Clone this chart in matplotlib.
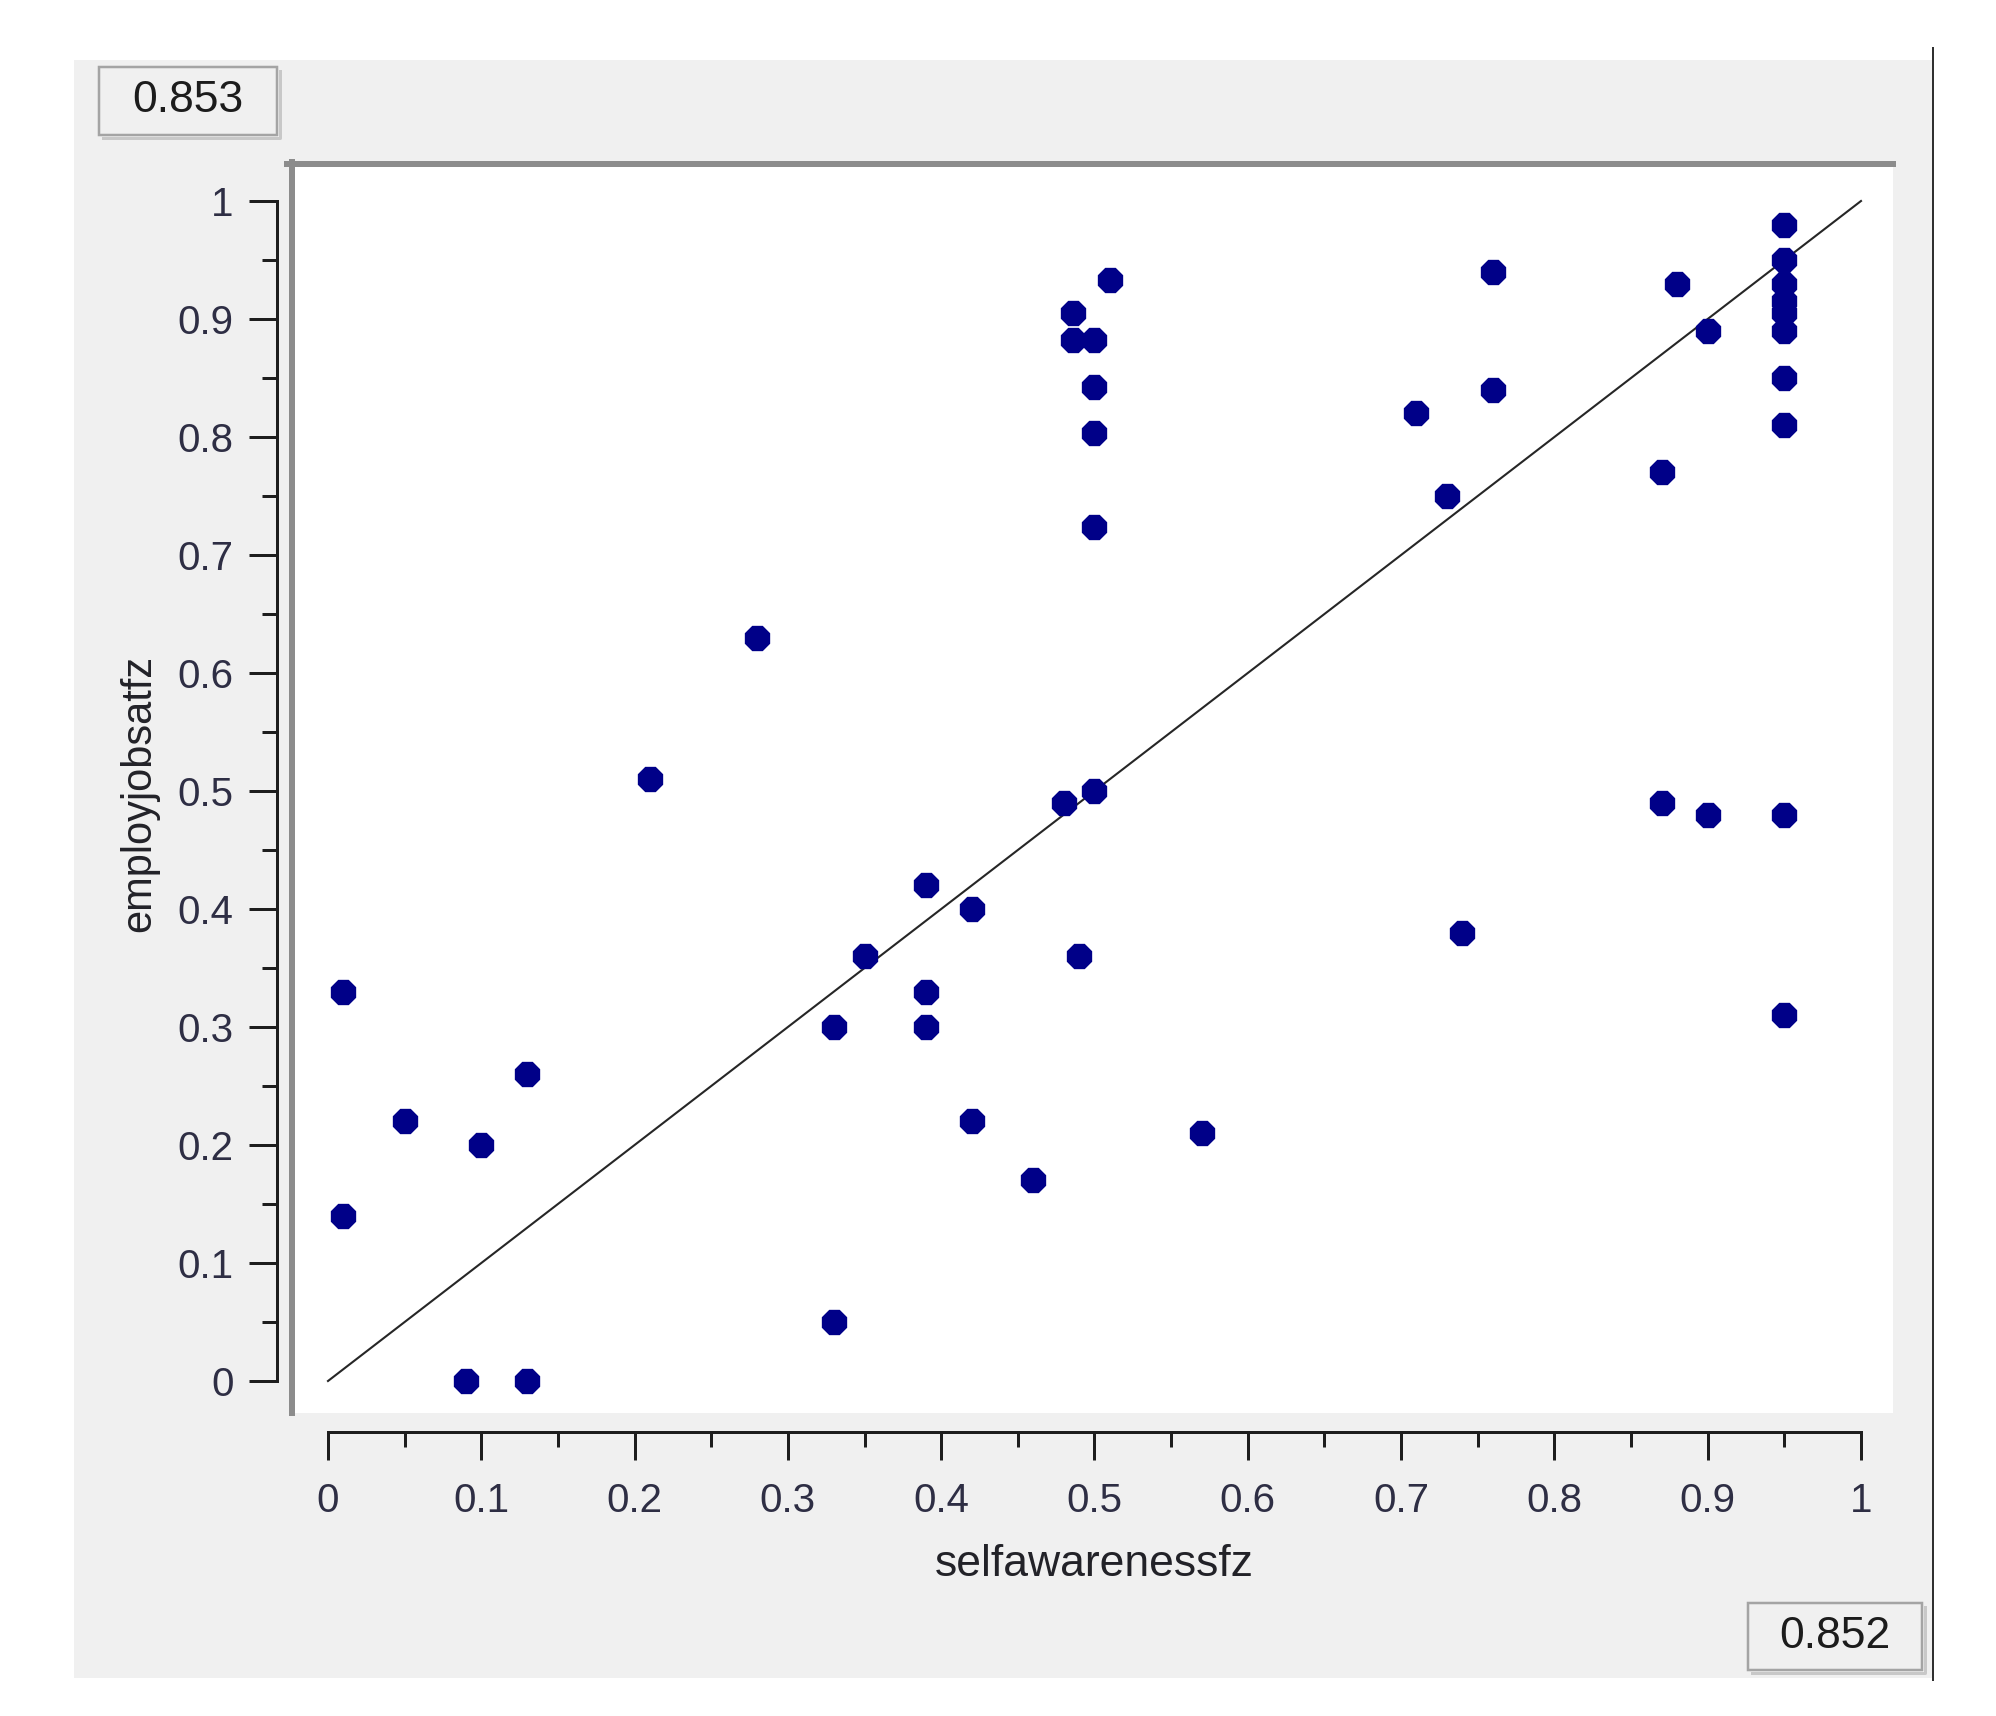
import matplotlib
matplotlib.use("Agg")
import matplotlib.pyplot as plt
from matplotlib.patches import Rectangle
from matplotlib.lines import Line2D
import numpy as np

# data
x_vals = [0.01, 0.01, 0.05, 0.10, 0.09, 0.13, 0.13, 0.21, 0.28, 0.33,
          0.33, 0.35, 0.39, 0.39, 0.39, 0.42, 0.42, 0.46, 0.48, 0.49,
          0.50, 0.486, 0.486, 0.50, 0.50, 0.50, 0.50, 0.51, 0.57, 0.71,
          0.73, 0.74, 0.76, 0.76, 0.87, 0.87, 0.88, 0.90, 0.90, 0.95,
          0.95, 0.95, 0.95, 0.95, 0.95, 0.95, 0.95, 0.95, 0.95]
y_vals = [0.33, 0.14, 0.22, 0.20, 0.00, 0.00, 0.26, 0.51, 0.63, 0.30,
          0.05, 0.36, 0.42, 0.33, 0.30, 0.40, 0.22, 0.17, 0.49, 0.36,
          0.50, 0.905, 0.882, 0.882, 0.842, 0.803, 0.724, 0.933, 0.21, 0.82,
          0.75, 0.38, 0.94, 0.84, 0.77, 0.49, 0.93, 0.89, 0.48, 0.98,
          0.95, 0.93, 0.915, 0.905, 0.89, 0.85, 0.81, 0.48, 0.31]
fit_x = [0, 1]
fit_y = [0, 1]

ticks = [0, 0.1, 0.2, 0.3, 0.4, 0.5, 0.6, 0.7, 0.8, 0.9, 1]
tick_labels = ["0", "0.1", "0.2", "0.3", "0.4", "0.5", "0.6", "0.7", "0.8", "0.9", "1"]
minor_ticks = [0.05, 0.15, 0.25, 0.35, 0.45, 0.55, 0.65, 0.75, 0.85, 0.95]
x_name = "selfawarenessfz"
y_name = "employjobsatfz"
corner_left = "0.853"
corner_right = "0.852"

plt.rcParams['font.family'] = ['Liberation Sans', 'DejaVu Sans']

W, H = 1996, 1716
fig = plt.figure(figsize=(W / 100, H / 100), dpi=100)
fig.patch.set_facecolor("white")

def fx(px):
    return px / W

def fy(py):
    return 1 - py / H

PT = 0.72  # points per pixel at dpi 100

# grey window panel
fig.add_artist(Rectangle((fx(74), fy(1678)), fx(1932) - fx(74), fy(60) - fy(1678),
                         transform=fig.transFigure, facecolor="#f0f0f0",
                         edgecolor="none", zorder=-5))
fig.add_artist(Line2D([fx(1933), fx(1933)], [fy(48), fy(1680)], transform=fig.transFigure,
                      color="#303030", lw=2 * PT, zorder=6))

# plot area
ax = fig.add_axes([fx(290), fy(1413), fx(1893) - fx(290), fy(162) - fy(1413)])
ax.set_facecolor("white")
ax.set_xlim(-0.02479, 1.02088)
ax.set_ylim(-0.02712, 1.03305)

ax.plot(fit_x, fit_y, color="#262626", lw=1.5, zorder=2)
ax.scatter(x_vals, y_vals, s=390, marker="8", c="#000088", linewidths=0, zorder=3)

for s in ["top", "right"]:
    ax.spines[s].set_visible(False)
ax.spines["left"].set_position(("outward", 13 * PT))
ax.spines["bottom"].set_position(("outward", 19 * PT))
for s in ["left", "bottom"]:
    ax.spines[s].set_bounds(0, 1)
    ax.spines[s].set_linewidth(3 * PT)
    ax.spines[s].set_color("#1e1e1e")

ax.set_xticks(ticks)
ax.set_xticklabels(tick_labels)
ax.set_yticks(ticks)
ax.set_yticklabels(tick_labels)
ax.set_xticks(minor_ticks, minor=True)
ax.set_yticks(minor_ticks, minor=True)
ax.tick_params(which="major", direction="out", length=28 * PT, width=3 * PT,
               color="#1e1e1e", labelsize=29, labelcolor="#2e2e44")
ax.tick_params(which="minor", direction="out", length=15 * PT, width=3 * PT, color="#1e1e1e")
ax.tick_params(axis="y", which="major", pad=11)
ax.tick_params(axis="x", which="major", pad=16)

# sunken frame on top / left of the plot area
fig.add_artist(Line2D([fx(287), fx(1893)], [fy(164), fy(164)], transform=fig.transFigure,
                      color="#8c8c8c", lw=6 * PT, zorder=5))
fig.add_artist(Line2D([fx(292), fx(292)], [fy(162), fy(1413)], transform=fig.transFigure,
                      color="#8c8c8c", lw=6 * PT, zorder=5))

fig.text(fx(1094), fy(1564), x_name, ha="center", va="center", fontsize=32, color="#222228")
fig.text(fx(139), fy(793), y_name, rotation=90, ha="center", va="center",
         fontsize=30, color="#222228")

# value boxes
for (x0, y0, x1, y1), txt in [((99, 67, 277, 135), corner_left),
                              ((1748, 1603, 1922, 1670), corner_right)]:
    fig.add_artist(Line2D([fx(x0 + 4), fx(x1 + 3), fx(x1 + 3)],
                          [fy(y1 + 3), fy(y1 + 3), fy(y0 + 4)],
                          transform=fig.transFigure, color="#c8c8c8", lw=3 * PT, zorder=6))
    fig.add_artist(Rectangle((fx(x0), fy(y1)), fx(x1) - fx(x0), fy(y0) - fy(y1),
                             transform=fig.transFigure, facecolor="#f0f0f0",
                             edgecolor="#a4a4a4", lw=2.5 * PT, zorder=7))
    fig.text(fx((x0 + x1) / 2), fy((y0 + y1) / 2), txt, ha="center", va="center",
             fontsize=32, color="#1c1c1c", zorder=8,
             family=["Liberation Sans Narrow", "Liberation Sans", "DejaVu Sans"])

fig.savefig("out.png", dpi=100)
